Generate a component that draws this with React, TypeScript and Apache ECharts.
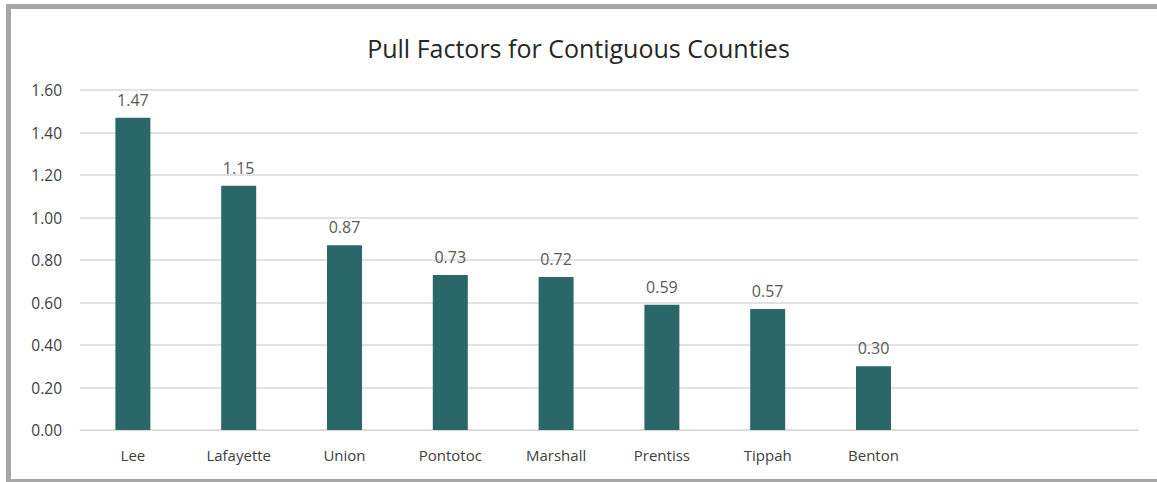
import React, { useEffect, useRef } from "react";
import * as echarts from "echarts";

const categories = ["Lee", "Lafayette", "Union", "Pontotoc", "Marshall", "Prentiss", "Tippah", "Benton", "", " "];
const pullFactors = [1.47, 1.15, 0.87, 0.73, 0.72, 0.59, 0.57, 0.3];
const titleText = "Pull Factors for Contiguous Counties";

export default function App() {
  const ref = useRef<HTMLDivElement>(null);
  useEffect(() => {
    if (!ref.current) return;
    const chart = echarts.init(ref.current, null, { renderer: "svg" });
    const font = "'Open Sans', 'Noto Sans', sans-serif";
    chart.setOption({
      animation: false,
      backgroundColor: "#ffffff",
      title: {
        text: titleText,
        left: "center",
        top: 30,
        textStyle: { fontFamily: font, fontSize: 25, fontWeight: "normal", color: "#262626" },
      },
      grid: { left: 80, right: 19, top: 90, bottom: 52, containLabel: false },
      xAxis: {
        type: "category",
        data: categories,
        axisLine: { show: true, lineStyle: { color: "#d9d9d9", width: 1 } },
        axisTick: { show: false },
        axisLabel: { fontFamily: font, fontSize: 15, color: "#404040", margin: 17 },
      },
      yAxis: {
        type: "value",
        min: 0,
        max: 1.6,
        interval: 0.2,
        axisLine: { show: false },
        axisTick: { show: false },
        splitLine: { lineStyle: { color: "#d9d9d9", width: 1.5 } },
        axisLabel: {
          fontFamily: font,
          fontSize: 15.5,
          color: "#404040",
          margin: 18,
          formatter: (v: number) => v.toFixed(2),
        },
      },
      series: [
        {
          type: "bar",
          data: pullFactors,
          barWidth: 35,
          itemStyle: { color: "#296769" },
          label: {
            show: true,
            position: "top",
            distance: 10,
            fontFamily: font,
            fontSize: 16,
            color: "#595959",
            formatter: (p: any) => Number(p.value).toFixed(2),
          },
        },
      ],
      graphic: [
        { type: "rect", shape: { x: 6, y: 4, width: 1151, height: 5 }, style: { fill: "#a6a6a6" }, silent: true },
        { type: "rect", shape: { x: 6, y: 4, width: 5, height: 478 }, style: { fill: "#a6a6a6" }, silent: true },
        { type: "rect", shape: { x: 6, y: 479, width: 1151, height: 3 }, style: { fill: "#a6a6a6" }, silent: true },
      ],
    });
    return () => chart.dispose();
  }, []);
  return <div ref={ref} style={{ position: "fixed", left: 0, top: 0, width: 1157, height: 482 }} />;
}
